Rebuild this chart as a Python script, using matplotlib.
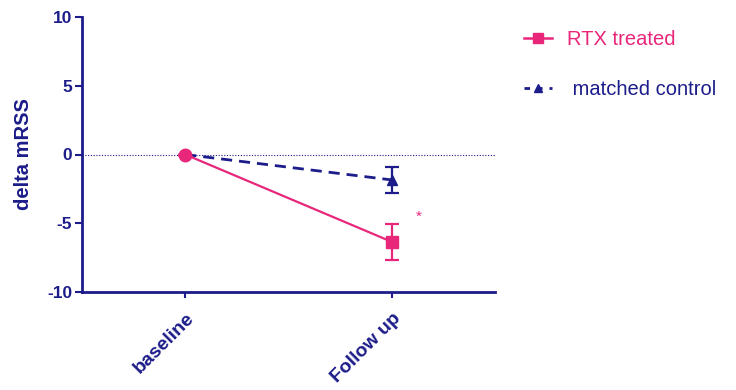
import matplotlib
matplotlib.use("Agg")
import matplotlib.pyplot as plt
from matplotlib.lines import Line2D
import numpy as np

# data
timepoints = ["baseline", "Follow up"]
rtx_mean = [0.0, -6.35]
rtx_err = [0.0, 1.3]
ctrl_mean = [0.0, -1.85]
ctrl_err = [0.0, 0.95]
star_pos = (1.13, -4.5)

PINK = "#e8277b"
NAVY = "#1c1c8a"

plt.rcParams['font.family'] = ['Liberation Sans', 'DejaVu Sans']
plt.rcParams['axes.unicode_minus'] = False

fig = plt.figure(figsize=(7.36, 3.9), dpi=100)
ax = fig.add_axes([82/736, 1 - 292/390, (495 - 82)/736, (292 - 17)/390])

x = np.arange(len(timepoints))

ax.axhline(0, color=NAVY, linestyle=(0, (1, 1.5)), linewidth=0.8, zorder=1)

ax.errorbar(x, ctrl_mean, yerr=ctrl_err, color=NAVY, linestyle=(0, (4, 2.5)),
            linewidth=2, capsize=5, capthick=1.6, elinewidth=1.6, zorder=2)
ax.plot(x[1:], ctrl_mean[1:], marker='^', color=NAVY, markersize=7, linestyle='none', zorder=3)

ax.errorbar(x, rtx_mean, yerr=rtx_err, color=PINK, linestyle='-',
            linewidth=1.6, capsize=5, capthick=1.6, elinewidth=1.6, zorder=4)
ax.plot(x[1:], rtx_mean[1:], marker='s', color=PINK, markersize=8, linestyle='none', zorder=5)
ax.plot(x[:1], rtx_mean[:1], marker='o', color=PINK, markersize=9, linestyle='none', zorder=5)

ax.text(star_pos[0], star_pos[1], "*", color=PINK, fontsize=11, ha='center', va='center')

ax.set_xlim(-0.5, 1.5)
ax.set_ylim(-10, 10)
ax.set_yticks([-10, -5, 0, 5, 10])
ax.set_xticks(x)
ax.set_xticklabels(timepoints, rotation=45, ha='right', rotation_mode='anchor')

for s in ['top', 'right']:
    ax.spines[s].set_visible(False)
for s in ['left', 'bottom']:
    ax.spines[s].set_color(NAVY)
    ax.spines[s].set_linewidth(2)

ax.tick_params(axis='y', colors=NAVY, width=1.5, length=5, labelsize=12.5, pad=2)
ax.tick_params(axis='x', colors=NAVY, width=1.5, length=4, labelsize=14, pad=9)
for lab in ax.get_xticklabels() + ax.get_yticklabels():
    lab.set_fontweight('bold')
    lab.set_color(NAVY)

ax.set_ylabel("delta mRSS", color=NAVY, fontsize=14.5, fontweight='bold', labelpad=10)

handles = [
    Line2D([], [], color=PINK, linewidth=1.8, marker='s', markersize=7),
    Line2D([], [], color=NAVY, linewidth=2, linestyle=(0, (2, 2.5)), marker='^', markersize=6),
]
leg = fig.legend(handles, ["RTX treated", " matched control"], loc='upper left',
                 bbox_to_anchor=(506/736, 1 - 12/390), frameon=False,
                 fontsize=14.5, handlelength=1.4, handletextpad=0.75, labelspacing=1.55)
leg.get_texts()[0].set_color(PINK)
leg.get_texts()[1].set_color(NAVY)

fig.savefig("out.png", dpi=100)
